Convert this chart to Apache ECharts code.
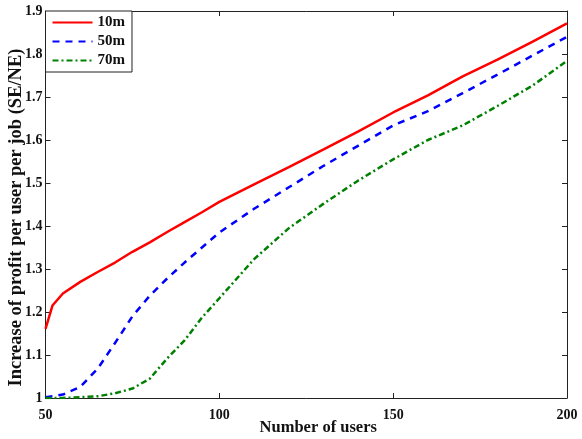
<!DOCTYPE html>
<html>
<head>
<meta charset="utf-8">
<script src="https://cdn.jsdelivr.net/npm/echarts@6/dist/echarts.min.js"></script>
<style>
html,body{margin:0;padding:0;background:#fff;}
#chart{width:582px;height:439px;}
</style>
</head>
<body>
<div id="chart"></div>
<script>
const xUsers = [50, 52, 55, 60, 65, 70, 75, 80, 85, 90, 95, 100, 110, 120, 130, 140, 150, 160, 170, 180, 190, 200];
const s10m = [1.161, 1.215, 1.243, 1.270, 1.293, 1.315, 1.340, 1.362, 1.386, 1.409, 1.432, 1.456, 1.497, 1.537, 1.578, 1.620, 1.664, 1.704, 1.748, 1.787, 1.828, 1.871];
const s50m = [1.002, 1.004, 1.008, 1.026, 1.068, 1.128, 1.190, 1.238, 1.278, 1.315, 1.350, 1.385, 1.440, 1.490, 1.540, 1.587, 1.634, 1.667, 1.709, 1.752, 1.796, 1.840];
const s70m = [1.000, 1.000, 1.000, 1.002, 1.004, 1.011, 1.022, 1.045, 1.092, 1.134, 1.187, 1.232, 1.323, 1.395, 1.452, 1.506, 1.555, 1.600, 1.634, 1.679, 1.726, 1.784];
const seriesNames = ['10m', '50m', '70m'];
const xTicks = [50, 100, 150, 200];
const yTicks = [1, 1.1, 1.2, 1.3, 1.4, 1.5, 1.6, 1.7, 1.8, 1.9];

const font = 'Liberation Serif';
const pair = arr => xUsers.map((x, i) => [x, arr[i]]);

const chart = echarts.init(document.getElementById('chart'), null, {renderer: 'canvas'});
const axisCommon = {
  axisLine: {show: true, lineStyle: {color: '#222', width: 1}},
  axisTick: {show: true, inside: true, length: 5, lineStyle: {color: '#222'}},
  splitLine: {show: false}
};
chart.setOption({
  animation: false,
  backgroundColor: '#fff',
  grid: {left: 45.5, right: 15, top: 11, bottom: 41, containLabel: false, outerBoundsMode: 'none'},
  legend: {
    left: 45.5, top: 11,
    orient: 'vertical',
    backgroundColor: '#fff',
    borderColor: '#222', borderWidth: 1, borderRadius: 0,
    padding: [4, 7, 4, 6],
    itemGap: 4,
    itemWidth: 40, itemHeight: 15,
    itemStyle: {opacity: 0, borderWidth: 0},
    textStyle: {fontFamily: font, fontWeight: 'bold', fontSize: 15, color: '#111'},
    data: seriesNames
  },
  xAxis: [{
    type: 'value', min: 50, max: 200, interval: 50,
    name: 'Number of users', nameLocation: 'middle', nameGap: 21, nameMoveOverlap: false,
    nameTextStyle: {fontFamily: font, fontWeight: 'bold', fontSize: 16.5, color: '#111', padding: [0, 0, 0, 24]},
    axisLabel: {fontFamily: font, fontWeight: 'bold', fontSize: 14, color: '#111', margin: 10,
      formatter: v => xTicks.includes(v) ? String(v) : ''},
    ...axisCommon
  }, {
    type: 'value', min: 50, max: 200, interval: 50, position: 'top',
    axisLabel: {show: false}, ...axisCommon
  }],
  yAxis: [{
    type: 'value', min: 1, max: 1.9, interval: 0.1,
    name: 'Increase of profit per user per job (SE/NE)', nameLocation: 'middle', nameGap: 20, nameMoveOverlap: false,
    nameTextStyle: {fontFamily: font, fontWeight: 'bold', fontSize: 18.5, color: '#111', padding: [0, 26, 0, 0]},
    axisLabel: {fontFamily: font, fontWeight: 'bold', fontSize: 14, color: '#111', margin: 3,
      formatter: v => { const t = yTicks.find(y => Math.abs(y - v) < 1e-6); return t === undefined ? '' : String(t); }},
    ...axisCommon
  }, {
    type: 'value', min: 1, max: 1.9, interval: 0.1, position: 'right',
    axisLabel: {show: false}, ...axisCommon
  }],
  series: [
    {name: '10m', type: 'line', data: pair(s10m), symbol: 'none', smooth: false,
      lineStyle: {color: '#ff0000', width: 2.5, type: 'solid'}, itemStyle: {color: '#ff0000'}},
    {name: '50m', type: 'line', data: pair(s50m), symbol: 'none', smooth: false,
      lineStyle: {color: '#0000ff', width: 2.5, type: [7, 6]}, itemStyle: {color: '#0000ff'}},
    {name: '70m', type: 'line', data: pair(s70m), symbol: 'none', smooth: false,
      lineStyle: {color: '#008000', width: 2.5, type: [6, 3, 2, 3]}, itemStyle: {color: '#008000'}}
  ]
});
</script>
</body>
</html>
